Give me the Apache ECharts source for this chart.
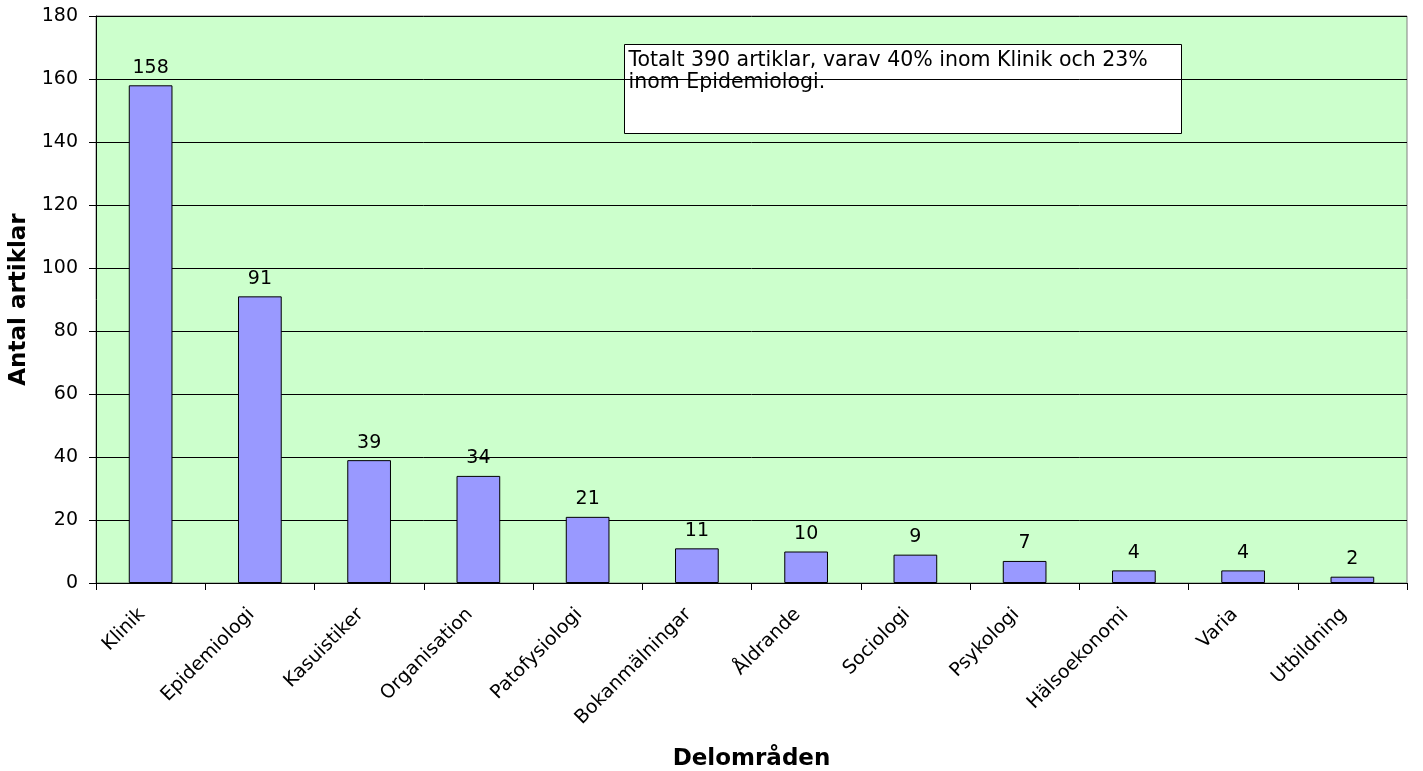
<!DOCTYPE html>
<html><head><meta charset="utf-8">
<script src="https://cdn.jsdelivr.net/npm/echarts@6/dist/echarts.min.js"></script>
<style>html,body{margin:0;padding:0;background:#fff}#c{width:1423px;height:771px}</style>
</head><body><div id="c"></div>
<script>
const categories = ['Klinik','Epidemiologi','Kasuistiker','Organisation','Patofysiologi','Bokanmälningar','Åldrande','Sociologi','Psykologi','Hälsoekonomi','Varia','Utbildning'];
const values = [158, 91, 39, 34, 21, 11, 10, 9, 7, 4, 4, 2];
const yTicks = [0, 20, 40, 60, 80, 100, 120, 140, 160, 180];
const note = 'Totalt 390 artiklar, varav 40% inom Klinik och 23%\ninom Epidemiologi.';
const F = '"DejaVu Sans", Verdana, sans-serif';
const chart = echarts.init(document.getElementById('c'));
chart.setOption({
  animation: false,
  backgroundColor: '#ffffff',
  grid: { left: 96, right: 16, top: 16, bottom: 188, outerBoundsMode: 'none', containLabel: false, show: true, backgroundColor: '#CCFFCC', borderColor: '#808080', borderWidth: 1 },
  xAxis: {
    type: 'category', data: categories,
    name: 'Delområden', nameLocation: 'middle', nameGap: 165,
    nameTextStyle: { fontFamily: F, fontSize: 23, fontWeight: 'bold', color: '#000' },
    axisLine: { lineStyle: { color: '#000', width: 1 } },
    axisTick: { show: true, length: 7, inside: false, lineStyle: { color: '#000' } },
    axisLabel: { rotate: 45, margin: 20, padding: [0, 12, 0, 0], fontFamily: F, fontSize: 19, color: '#000', interval: 0 }
  },
  yAxis: {
    type: 'value', min: 0, max: 180, interval: 20,
    name: 'Antal artiklar', nameLocation: 'middle', nameGap: 62, nameRotate: 90,
    nameTextStyle: { fontFamily: F, fontSize: 23, fontWeight: 'bold', color: '#000' },
    axisLine: { show: true, lineStyle: { color: '#000', width: 1 } },
    axisTick: { show: true, length: 7, lineStyle: { color: '#000' } },
    axisLabel: { margin: 18, fontFamily: F, fontSize: 19, color: '#000',
      formatter: v => yTicks.includes(v) ? String(v) : '' },
    splitLine: { show: true, lineStyle: { color: '#000', width: 1 } }
  },
  series: [{
    type: 'bar', data: values, barWidth: '40%',
    itemStyle: { color: '#9999FF', borderColor: '#000', borderWidth: 1 },
    label: { show: true, position: 'top', distance: 8, fontFamily: F, fontSize: 19, color: '#000' }
  }],
  graphic: [{
    type: 'group', left: 624, top: 44, z: 100,
    children: [
      { type: 'rect', shape: { x: 0, y: 0, width: 557, height: 89 }, style: { fill: '#fff', stroke: '#000', lineWidth: 1 } },
      { type: 'text', x: 4, y: 5, style: { text: note, font: '20.5px ' + F, fill: '#000', lineHeight: 22 } }
    ]
  }]
});
</script></body></html>
